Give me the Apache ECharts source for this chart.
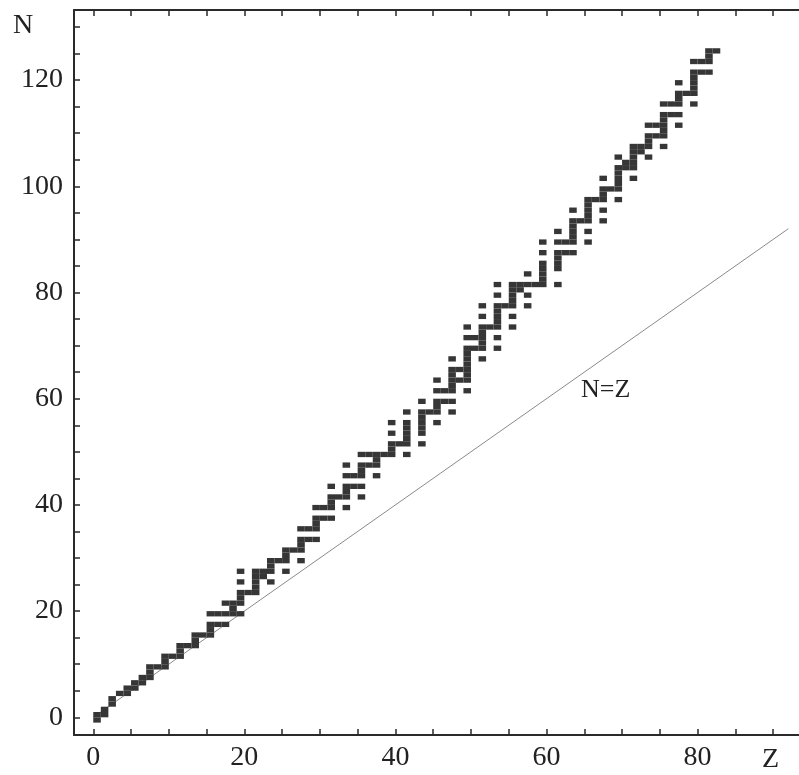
<!DOCTYPE html>
<html>
<head>
<meta charset="utf-8">
<script src="https://cdn.jsdelivr.net/npm/echarts@6/dist/echarts.min.js"></script>
<style>html,body{margin:0;padding:0;background:#fff;overflow:hidden;}#c{width:799px;height:775px;}</style>
</head>
<body>
<div id="c"></div>
<script>
// Stable (and primordial) nuclides: proton number Z and the neutron numbers N of its isotopes
const protonNumbers = [1,2,3,4,5,6,7,8,9,10,11,12,13,14,15,16,17,18,19,20,21,22,23,24,25,26,27,28,29,30,31,32,33,34,35,36,37,38,39,40,41,42,44,45,46,47,48,49,50,51,52,53,54,55,56,57,58,59,60,62,63,64,65,66,67,68,69,70,71,72,73,74,75,76,77,78,79,80,81,82,83];
const neutronLists = [
  [0,1],[1,2],[3,4],[5],[5,6],[6,7],[7,8],[8,9,10],[10],[10,11,12],
  [12],[12,13,14],[14],[14,15,16],[16],[16,17,18,20],[18,20],[18,20,22],[20,21,22],[20,22,23,24,26,28],
  [24],[24,25,26,27,28],[27,28],[26,28,29,30],[30],[28,30,31,32],[32],[30,32,33,34,36],[34,36],[34,36,37,38,40],
  [38,40],[38,40,41,42,44],[42],[40,42,43,44,46,48],[44,46],[42,44,46,47,48,50],[48,50],[46,48,49,50],[50],[50,51,52,54,56],
  [52],[50,52,53,54,55,56,58],[52,54,55,56,57,58,60],[58],[56,58,59,60,62,64],[60,62],[58,60,62,63,64,65,66,68],[64,66],
  [62,64,65,66,67,68,69,70,72,74],[70,72],[68,70,71,72,73,74,76,78],[74],[70,72,74,75,76,77,78,80,82],[78],
  [74,76,78,79,80,81,82],[81,82],[78,80,82,84],[82],[82,83,84,85,86,88,90],[82,85,86,87,88,90,92],[88,90],
  [88,90,91,92,93,94,96],[94],[90,92,94,95,96,97,98],[98],[94,96,98,99,100,102],[100],[98,100,101,102,103,104,106],
  [104,105],[102,104,105,106,107,108],[107,108],[106,108,109,110,112],[110,112],[108,110,111,112,113,114,116],
  [114,116],[112,114,116,117,118,120],[118],[116,118,119,120,121,122,124],[122,124],[122,124,125,126],[126]
];
const diagonal = [[0,0],[92,92]];
const xTickLabels = [0,20,40,60,80];
const yTickLabels = [0,20,40,60,80,100,120];
const ticksX = [0,5,10,15,20,25,30,35,40,45,50,55,60,65,70,75,80,85,90];
const ticksY = [0,5,10,15,20,25,30,35,40,45,50,55,60,65,70,75,80,85,90,95,100,105,110,115,120,125,130];

const nuclides = [];
protonNumbers.forEach((z, i) => neutronLists[i].forEach(n => nuclides.push([z, n])));

const X_MIN = -2.55, X_MAX = 93.42, Y_MIN = -3.33, Y_MAX = 133.2;
const FONT = 'Liberation Serif';
const AX = '#2a2a2a';

function xAx(gridIndex, pos, labels) {
  return {
    type: 'value', gridIndex: gridIndex, position: pos, min: X_MIN, max: X_MAX,
    axisLine: { show: true, onZero: false, lineStyle: { color: AX, width: 2 } },
    axisTick: { show: true, inside: true, length: 6, customValues: ticksX, lineStyle: { color: AX, width: 1.5 } },
    axisLabel: labels ? { show: true, customValues: labels, fontFamily: FONT, fontSize: 28, color: '#222', margin: 9 } : { show: false },
    splitLine: { show: false }
  };
}

const chart = echarts.init(document.getElementById('c'), null, { renderer: 'canvas' });
chart.setOption({
  backgroundColor: '#fff',
  animation: false,
  grid: [
    { left: 74, top: 10, right: -2, bottom: 40 },
    { left: 74, top: 10, right: -2, height: 1 }
  ],
  xAxis: [
    xAx(0, 'bottom', xTickLabels),
    xAx(1, 'top', null)
  ],
  yAxis: [
    {
      type: 'value', gridIndex: 0, position: 'left', min: Y_MIN, max: Y_MAX,
      axisLine: { show: true, onZero: false, lineStyle: { color: AX, width: 2 } },
      axisTick: { show: true, inside: true, length: 6, customValues: ticksY, lineStyle: { color: AX, width: 1.5 } },
      axisLabel: { show: true, customValues: yTickLabels, fontFamily: FONT, fontSize: 28, color: '#222', margin: 11 },
      splitLine: { show: false }
    },
    { type: 'value', gridIndex: 1, show: false, min: 0, max: 1 }
  ],
  series: [
    {
      type: 'line', xAxisIndex: 0, yAxisIndex: 0, data: diagonal,
      symbol: 'none', lineStyle: { color: '#8a8a8a', width: 1 }, z: 1, silent: true
    },
    {
      type: 'custom', xAxisIndex: 0, yAxisIndex: 0, data: nuclides, z: 2,
      renderItem: function (params, api) {
        const z = api.value(0), n = api.value(1);
        const p1 = api.coord([z - 1, n]);
        const p2 = api.coord([z, n - 1]);
        return {
          type: 'rect',
          shape: { x: p1[0], y: p1[1], width: p2[0] - p1[0], height: p2[1] - p1[1] },
          style: { fill: '#363636' }
        };
      }
    }
  ],
  graphic: [
    { type: 'text', left: 13, top: 12, style: { text: 'N', font: '28px "Liberation Serif"', fill: '#222' } },
    { type: 'text', left: 762, top: 746, style: { text: 'Z', font: '28px "Liberation Serif"', fill: '#222' } },
    { type: 'text', left: 581, top: 377, style: { text: 'N=Z', font: '26px "Liberation Serif"', fill: '#222', letterSpacing: -1 } }
  ]
});
</script>
</body>
</html>
